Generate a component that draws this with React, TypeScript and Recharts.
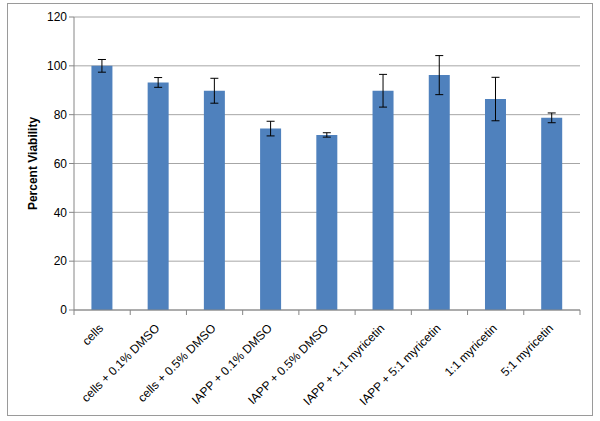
import React from "react";
import { BarChart, Bar, XAxis, YAxis, CartesianGrid, ErrorBar, Label } from "recharts";

const categories = [
  "cells",
  "cells + 0.1% DMSO",
  "cells + 0.5% DMSO",
  "IAPP + 0.1% DMSO",
  "IAPP + 0.5% DMSO",
  "IAPP + 1:1 myricetin",
  "IAPP + 5:1 myricetin",
  "1:1 myricetin",
  "5:1 myricetin",
];
const viability = [100, 93.2, 89.8, 74.3, 71.7, 89.8, 96.2, 86.4, 78.7];
const errors = [2.6, 2, 5.1, 3, 0.9, 6.7, 8, 8.9, 2];
const yTicks = [0, 20, 40, 60, 80, 100, 120];

const data = categories.map((name, i) => ({ name, value: viability[i], err: errors[i] }));

const W = 600;
const H = 421;
const PLOT_LEFT = 74;
const PLOT_RIGHT = 580;
const FONT = "'Liberation Sans', Arial, sans-serif";

const CategoryTick = (props: any) => {
  const { x, y, payload, index } = props;
  const half = (PLOT_RIGHT - PLOT_LEFT) / categories.length / 2;
  const top = y - 8;
  return (
    <g>
      <line x1={x - half} y1={top} x2={x - half} y2={top + 5} stroke="#868686" />
      {index === categories.length - 1 ? (
        <line x1={x + half} y1={top} x2={x + half} y2={top + 5} stroke="#868686" />
      ) : null}
      <text
        x={0}
        y={0}
        transform={`translate(${x + 2},${y + 11}) rotate(-45)`}
        textAnchor="end"
        fontSize={12}
        fontFamily={FONT}
        fill="#000"
      >
        {payload.value}
      </text>
    </g>
  );
};

export default function App() {
  return (
    <div style={{ position: "absolute", left: 0, top: 0, width: W, height: H, background: "#fff" }}>
      <div
        style={{
          position: "absolute",
          left: 7,
          top: 3,
          width: 586,
          height: 413,
          border: "1px solid #9a9a9a",
          boxSizing: "border-box",
        }}
      />
      <BarChart
        width={W}
        height={H}
        data={data}
        margin={{ top: 17, right: W - PLOT_RIGHT, left: PLOT_LEFT - 44, bottom: 11 }}
        barCategoryGap="31%"
        style={{ position: "absolute", left: 0, top: 0 }}
      >
        <CartesianGrid vertical={false} stroke="#a6a6a6" />
        <XAxis
          dataKey="name"
          interval={0}
          height={100}
          axisLine={{ stroke: "#868686" }}
          tickLine={false}
          tick={<CategoryTick />}
        />
        <YAxis
          width={44}
          domain={[0, 120]}
          ticks={yTicks}
          axisLine={{ stroke: "#868686" }}
          tickLine={{ stroke: "#868686" }}
          tickSize={5}
          tick={{ fontSize: 12, fontFamily: FONT, fill: "#000" }}
        >
          <Label
            value="Percent Viability"
            angle={-90}
            position="insideLeft"
            offset={3}
            style={{ fontSize: 12, fontWeight: 700, fontFamily: FONT, fill: "#000", textAnchor: "middle" }}
          />
        </YAxis>
        <Bar dataKey="value" fill="#4F81BD" isAnimationActive={false}>
          <ErrorBar dataKey="err" width={4} stroke="#000" strokeWidth={1} />
        </Bar>
      </BarChart>
    </div>
  );
}
